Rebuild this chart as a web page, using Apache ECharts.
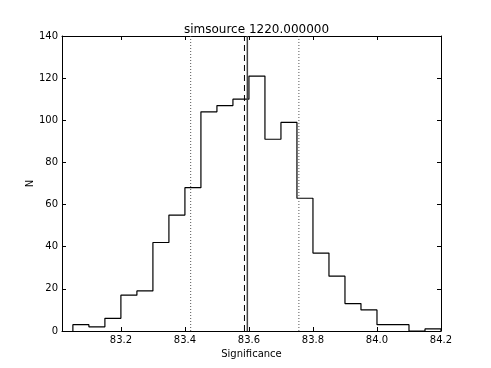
<!DOCTYPE html>
<html>
<head>
<meta charset="utf-8">
<script src="https://cdn.jsdelivr.net/npm/echarts@6/dist/echarts.min.js"></script>
<style>
  html, body { margin: 0; padding: 0; background: #fff; }
  #main { width: 491px; height: 368px; }
</style>
</head>
<body>
<div id="main"></div>
<script>
// bin left edges and counts
const binLeft = [83.05, 83.10, 83.15, 83.20, 83.25, 83.30, 83.35, 83.40, 83.45, 83.50, 83.55, 83.60,
  83.65, 83.70, 83.75, 83.80, 83.85, 83.90, 83.95, 84.00, 84.05, 84.10, 84.15];
const binRight = 84.20;
const counts = [3, 2, 6, 17, 19, 42, 55, 68, 104, 107, 110, 121,
  91, 99, 63, 37, 26, 13, 10, 3, 3, 0, 1];
// vertical marker lines
const dottedLines = [83.418, 83.756];
const dashedLine = 83.586;
const solidLine = 83.595;
const xTicks = [83.2, 83.4, 83.6, 83.8, 84.0, 84.2];
const titleText = "simsource 1220.000000";

// step outline of the histogram
let steps = [[binLeft[0], 0]];
binLeft.forEach((x, i) => steps.push([x, counts[i]]));
steps.push([binRight, counts[counts.length - 1]]);
steps.push([binRight, 0]);

const font = "DejaVu Sans";
let chart = echarts.init(document.getElementById("main"));
let tickStyle = { show: true, inside: true, length: 4, lineStyle: { color: "#000", width: 1 } };
let axisLine = { show: true, onZero: false, lineStyle: { color: "#000", width: 1 } };

function vline(x, style) {
  return {
    type: "line",
    data: [[x, 0], [x, 140]],
    symbol: "none",
    silent: true,
    lineStyle: style,
    z: 4,
  };
}

let option = {
  animation: false,
  backgroundColor: "#fff",
  title: {
    text: titleText,
    left: 251.5,
    top: 19,
    textAlign: "center",
    textStyle: { fontFamily: font, fontSize: 12, fontWeight: "normal", color: "#000" },
  },
  grid: { left: 62, right: 50, top: 36, bottom: 37, containLabel: false },
  xAxis: [
    {
      type: "value",
      min: 83.016,
      max: 84.2,
      axisLine: axisLine,
      axisTick: Object.assign({ customValues: xTicks }, tickStyle),
      axisLabel: {
        customValues: xTicks,
        formatter: (v) => v.toFixed(1),
        fontFamily: font, fontSize: 10, color: "#000", margin: 4,
      },
      splitLine: { show: false },
      name: "Significance",
      nameLocation: "middle",
      nameGap: 17,
      nameTextStyle: { fontFamily: font, fontSize: 10, color: "#000" },
    },
    {
      type: "value",
      position: "top",
      min: 83.016,
      max: 84.2,
      axisLine: axisLine,
      axisTick: Object.assign({ customValues: xTicks }, tickStyle),
      axisLabel: { show: false },
      splitLine: { show: false },
    },
  ],
  yAxis: [
    {
      type: "value",
      min: 0,
      max: 140,
      interval: 20,
      axisLine: axisLine,
      axisTick: tickStyle,
      axisLabel: { fontFamily: font, fontSize: 10, color: "#000", margin: 4 },
      splitLine: { show: false },
      name: "N",
      nameLocation: "middle",
      nameGap: 27,
      nameMoveOverlap: false,
      nameTextStyle: { fontFamily: font, fontSize: 10, color: "#000" },
    },
    {
      type: "value",
      position: "right",
      min: 0,
      max: 140,
      interval: 20,
      axisLine: axisLine,
      axisTick: tickStyle,
      axisLabel: { show: false },
      splitLine: { show: false },
    },
  ],
  series: [
    {
      type: "line",
      step: "end",
      data: steps,
      symbol: "none",
      lineStyle: { color: "#000", width: 1.2 },
      z: 3,
    },
    vline(dottedLines[0], { color: "#555", type: [1, 2], width: 1 }),
    vline(dottedLines[1], { color: "#555", type: [1, 2], width: 1 }),
    vline(dashedLine, { color: "#000", type: [6, 4], width: 1 }),
    vline(solidLine, { color: "#444", type: "solid", width: 1.5 }),
  ],
};
chart.setOption(option);
</script>
</body>
</html>
